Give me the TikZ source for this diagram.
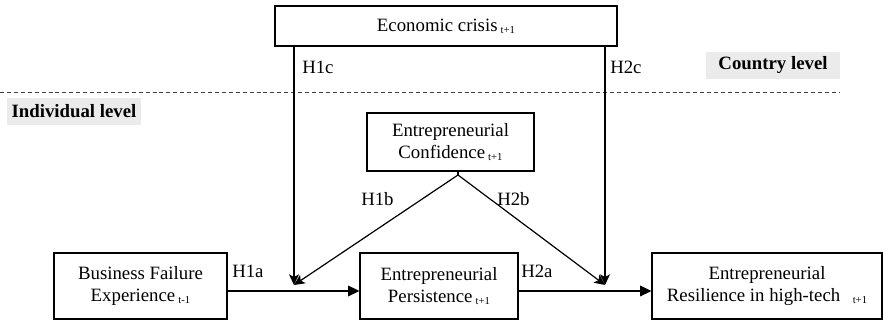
\documentclass[tikz,border=0pt]{standalone}
\usepackage{fontspec}
\setmainfont{Liberation Serif}
\usetikzlibrary{arrows.meta,calc}
\definecolor{lvlgray}{HTML}{EBEBEB}
\tikzset{
  box/.style={draw, line width=0.8pt, align=center, inner sep=0pt, font=\rmfamily\fontsize{14.1}{16.2}\selectfont},
  lvl/.style={fill=lvlgray, inner sep=0pt, font=\rmfamily\fontsize{14.1}{16}\selectfont\bfseries},
  hyp/.style={font=\rmfamily\fontsize{14.1}{16}\selectfont, inner sep=0pt},
  link/.style={line width=0.9pt, -{Triangle[length=8.5pt,width=8pt]}},
  mlink/.style={line width=0.9pt, -{Stealth[length=8pt,width=7.5pt,inset=2pt]}},
  plain/.style={line width=0.9pt}
}
\newcommand{\tsub}[1]{\,\raisebox{-1.5pt}{\fontsize{8}{9}\selectfont #1}}
\begin{document}
\begin{tikzpicture}[x=0.75pt,y=-0.75pt]
\useasboundingbox (0,0) rectangle (883,320);
% levels
\draw[dash pattern=on 3pt off 2.2pt, line width=0.6pt, gray!50!black] (0,92) -- (840,92);
\node[lvl, minimum width=134*0.75pt, minimum height=27*0.75pt] (country) at (773,65.5) {Country level};
\node[lvl, minimum width=134*0.75pt, minimum height=27*0.75pt] (indiv) at (74,111.5) {Individual level};
% boxes
\node[box, minimum width=342*0.75pt, minimum height=40*0.75pt] (crisis) at (446,26) {Economic crisis\tsub{t+1}};
\node[box, minimum width=167*0.75pt, minimum height=58*0.75pt] (conf) at (450.5,142) {Entrepreneurial\\Confidence\tsub{t+1}};
\node[box, minimum width=173*0.75pt, minimum height=66*0.75pt] (bf) at (140.5,286) {Business Failure\\Experience\tsub{t-1}};
\node[box, minimum width=158*0.75pt, minimum height=66*0.75pt] (pers) at (439,286) {Entrepreneurial\\Persistence\tsub{t+1}};
\node[box, minimum width=230*0.75pt, minimum height=66*0.75pt] (res) at (767,286) {Entrepreneurial\\Resilience in high-tech\enspace\tsub{t+1}};
% coordinates
\coordinate (m1) at (294,285);
\coordinate (m2) at (605,285);
\coordinate (apex) at (458,175);
% main arrows
\draw[link] ($(bf.east)+(0,5)$) -- ($(pers.west)+(0,5)$);
\draw[link] ($(pers.east)+(0,5)$) -- ($(res.west)+(0,5)$);
% moderators
\draw[mlink] (crisis.south -| m1) -- (m1);
\draw[mlink] (crisis.south -| m2) -- (m2);
\draw[mlink] (apex) -- (m1);
\draw[mlink] (apex) -- (m2);
\draw[plain] (conf.south -| apex) -- (apex);
% labels
\node[hyp, anchor=west] (h1c) at (302,67) {H1c};
\node[hyp, anchor=west] (h2c) at (610,67) {H2c};
\node[hyp, anchor=west] (h1b) at (361,199) {H1b};
\node[hyp, anchor=west] (h2b) at (497,199) {H2b};
\node[hyp, anchor=west] (h1a) at (232,271) {H1a};
\node[hyp, anchor=west] (h2a) at (521,271) {H2a};
\end{tikzpicture}
\end{document}
